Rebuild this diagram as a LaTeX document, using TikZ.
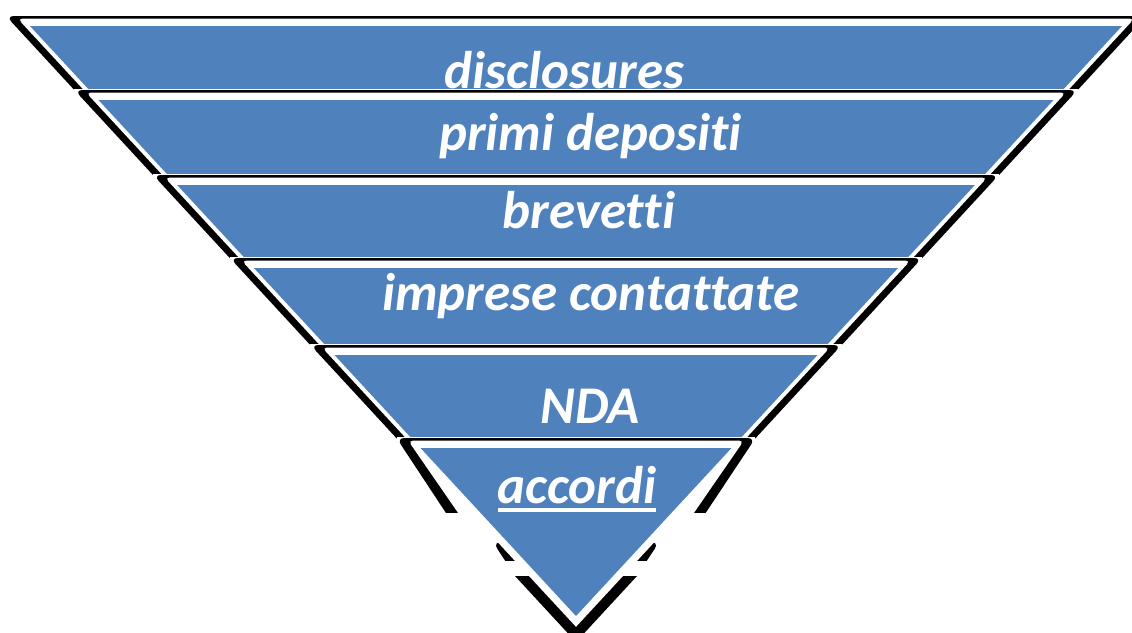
\documentclass[tikz,border=0pt]{standalone}
\usepackage{fontspec}
\setmainfont{Carlito}[Ligatures={NoCommon}]
\definecolor{funnelblue}{HTML}{4F81BD}

% left and right edges of the blue funnel at height y (y grows downwards)
\pgfmathdeclarefunction{Lx}{1}{\pgfmathparse{30+0.9254*(#1-26)}}
\pgfmathdeclarefunction{Rx}{1}{\pgfmathparse{1152-(30+0.9254*(#1-26))}}

\tikzset{
  lbl/.style={text=white, font=\fontsize{53}{60}\selectfont\bfseries\itshape,
              inner sep=0pt, anchor=base},
}

% one band of the funnel: #1 = top of its blue face, #2 = top of the next band
\newcommand\funnelband[2]{%
  \begin{scope}
    \clip (-20,-20) rectangle (1160,#2);
    \fill[black, rounded corners=8pt]
      ({Lx(#1)-24},{#1-10}) -- ({Rx(#1)+24},{#1-10}) --
      ({Rx(#2+20)+15},{#2+20}) -- ({Lx(#2+20)-15},{#2+20}) -- cycle;
    \fill[white, rounded corners=5pt]
      ({Lx(#1)-12.4},{#1-7.5}) -- ({Rx(#1)+12.4},{#1-7.5}) --
      ({Rx(#2+20)+5.5},{#2+20}) -- ({Lx(#2+20)-5.5},{#2+20}) -- cycle;
    \fill[funnelblue]
      ({Lx(#1)},#1) -- ({Rx(#1)},#1) --
      ({Rx(#2+20)},{#2+20}) -- ({Lx(#2+20)},{#2+20}) -- cycle;
  \end{scope}}

% white gap that separates a band from the one above it
\newcommand\bandgap[1]{%
  \fill[white] ({Lx(#1)-24},{#1-11.5}) rectangle ({Rx(#1)+24},{#1+1});}

\begin{document}
\begin{tikzpicture}[x=1pt,y=-1pt]
\useasboundingbox (0,0) rectangle (1132,632);
\clip (0,0) rectangle (1132,632);

% band 1
\funnelband{26}{100}
\node[lbl] (b1) at (564.5,88) {disclosures};

% band 2
\bandgap{100}
\funnelband{100}{185}
\node[lbl] (b2) at (590.5,150) {primi depositi};

% band 3
\bandgap{185}
\funnelband{185}{268}
\node[lbl] (b3) at (589,228) {brevetti};

% band 4
\bandgap{268}
\funnelband{268}{355}
\node[lbl] (b4) at (591,310) {imprese contattate};

% band 5
\bandgap{355}
\funnelband{355}{448}
\node[lbl] (b5) at (590,423) {NDA};

% band 6: the tip of the funnel
\bandgap{448}
\begin{scope}
  \clip (-20,-20) rectangle (1160,512);
  \fill[black, rounded corners=8pt]
    (396.5,438) -- (755.5,438) -- (694.3,530) -- (457.2,530) -- cycle;
  \fill[white, rounded corners=5pt]
    (408.1,440.5) -- (743.9,440.5) -- (682.1,530) -- (469.9,530) -- cycle;
\end{scope}
\begin{scope}
  \clip (-20,542) rectangle (1160,560);
  \fill[black, rounded corners=8pt]
    (492.8,542) -- (659.2,542) -- (634.1,580) -- (517.9,580) -- cycle;
\end{scope}
\fill[black] ({Lx(576)-24},576) -- ({Rx(576)+24},576) -- (576,642) -- cycle;
\fill[white] ({Lx(500)-10},500) -- ({Rx(500)+10},500) -- (576,626.8) -- cycle;
\fill[funnelblue] ({Lx(448)},448) -- ({Rx(448)},448) -- (576,616) -- cycle;
\node[lbl] (b6) at (577,503) {accordi};
\draw[white, line width=3.5pt]
  ([yshift=-7pt]b6.base west) -- ([yshift=-7pt]b6.base east);
\end{tikzpicture}
\end{document}
